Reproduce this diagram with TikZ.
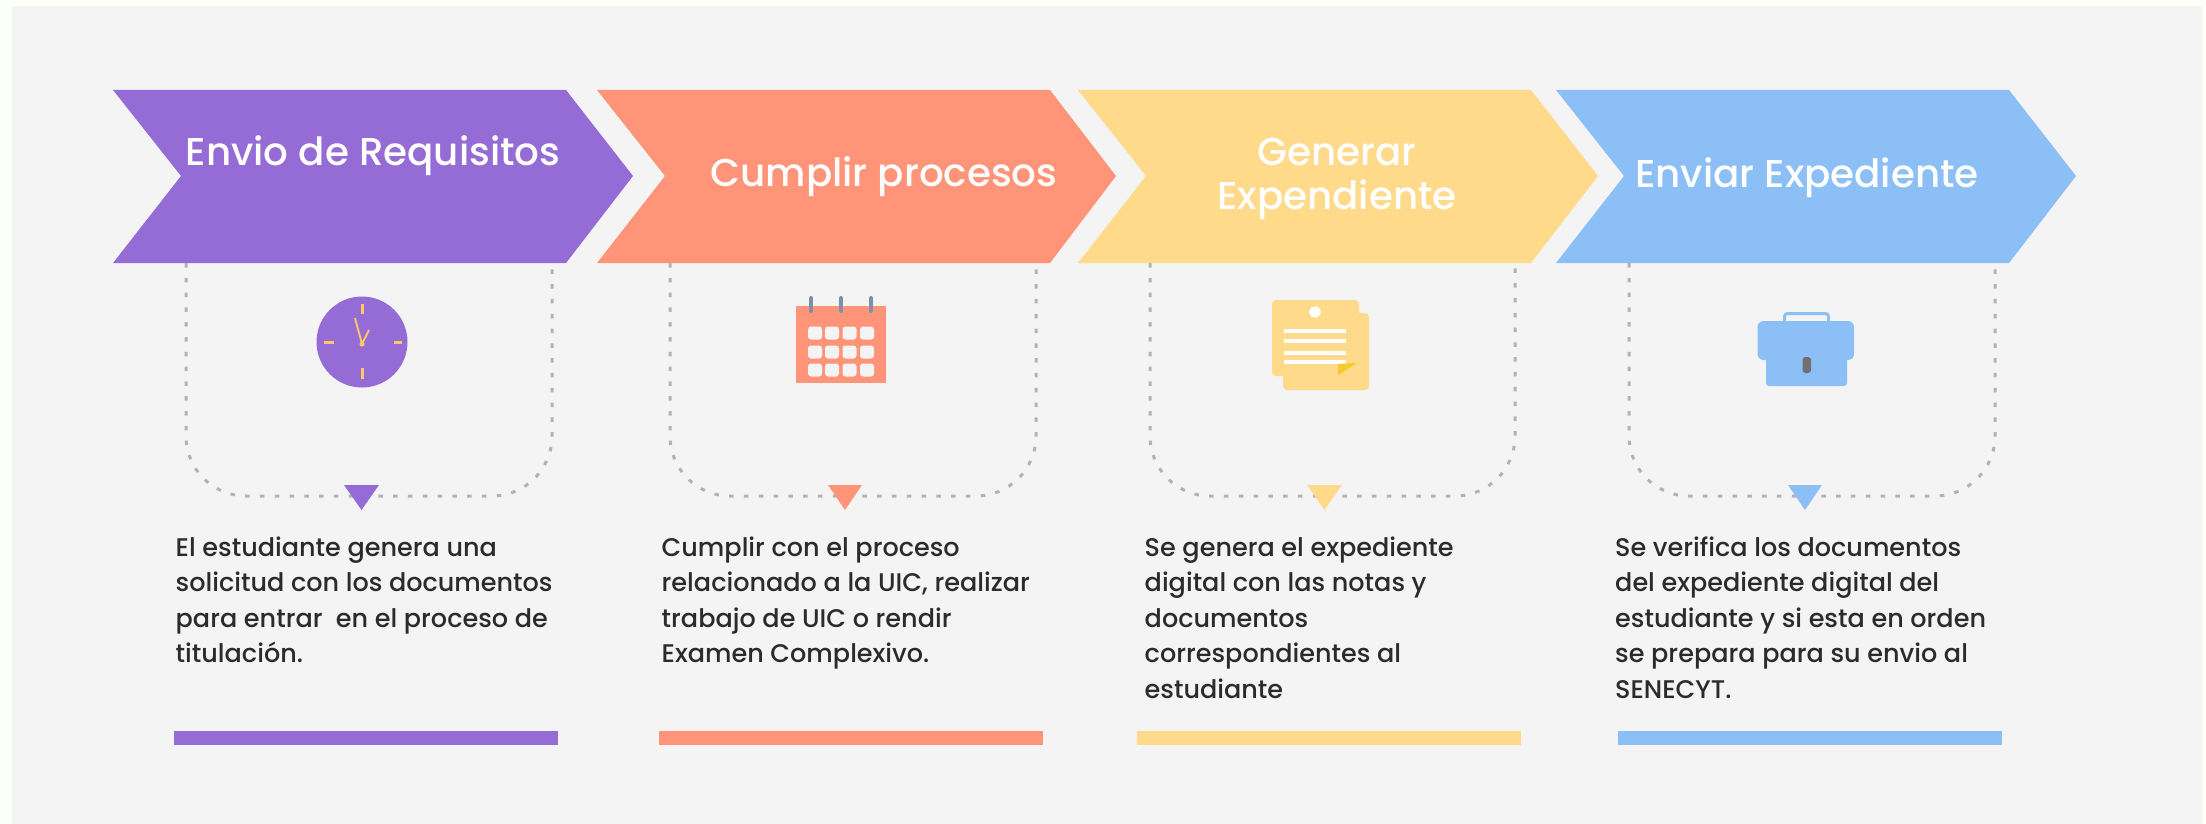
\documentclass[tikz,border=0pt]{standalone}
\usepackage{fontspec}
\setmainfont{Poppins Medium}
\definecolor{pagewhite}{HTML}{FCFEF9}
\definecolor{panel}{HTML}{F4F4F4}
\definecolor{cpurple}{HTML}{956CD6}
\definecolor{csalmon}{HTML}{FF9478}
\definecolor{cyellow}{HTML}{FFDA8A}
\definecolor{cblue}{HTML}{8BBFF5}
\definecolor{dotgrey}{HTML}{B2B2B2}
\definecolor{ringgrey}{HTML}{7F8FA9}
\definecolor{lockgrey}{HTML}{707070}
\definecolor{foldyellow}{HTML}{F9C92B}
\definecolor{clockhand}{HTML}{FFC766}
\definecolor{bodyink}{HTML}{2B2B2B}
\tikzset{
  titletext/.style={text=white,inner sep=0pt,anchor=base,font=\fontsize{38.8}{44}\selectfont,align=center},
  bodytext/.style={text=bodyink,inner sep=0pt,anchor=north west,align=left,font=\fontsize{25.5}{35.5}\selectfont},
  dotline/.style={draw=dotgrey,line width=3pt,dash pattern=on 4.5pt off 10.3pt,rounded corners=60pt},
}
\newcommand{\chevron}[5]{% name, colour, left, shoulder, tip
  \fill[#2] (#3,90) -- (#4,90) -- (#5,176) -- (#4,263) -- (#3,263) -- (#3+68,176) -- cycle;
  \coordinate (#1) at (#3,176);
}
\newcommand{\loopline}[6]{% name, colour, left, right, tri left, tri right
  \coordinate (#1l) at (#3,263);
  \coordinate (#1r) at (#4,263);
  \coordinate (#1b) at ({(#5+#6)/2},496);
  \draw[dotline] (#1l) -- (#1l |- #1b) -- (#1r |- #1b) -- (#1r);
  \fill[#2] (#5,485) -- (#6,485) -- ({(#5+#6)/2},510) -- cycle;
}
\begin{document}
\begin{tikzpicture}[x=1pt,y=-1pt]
\useasboundingbox (0,0) rectangle (2206,824);
\fill[pagewhite] (0,0) rectangle (2206,824);
\fill[panel] (12,6) rectangle (2202,824);

\chevron{a1}{cpurple}{113}{566}{633}
\chevron{a2}{csalmon}{597}{1050}{1116}
\chevron{a3}{cyellow}{1078}{1531}{1598}
\chevron{a4}{cblue}{1556}{2009}{2076}

\node[titletext] (t1) at (373,165) {Envio de Requisitos};
\node[titletext] (t2) at (884,186) {Cumplir procesos};
\node[titletext] (t3) at (1337,209) {Generar\\Expendiente};
\node[titletext] (t4) at (1807,187) {Enviar Expediente};

\loopline{l1}{cpurple}{186}{552}{344}{379}
\loopline{l2}{csalmon}{670}{1036}{828}{862}
\loopline{l3}{cyellow}{1150}{1515}{1307}{1342}
\loopline{l4}{cblue}{1629}{1995}{1788}{1822}

% clock
\fill[cpurple] (362,342) circle[radius=45.5pt];
\foreach \a/\b/\c/\d in {360.5/304/363.5/314,360.5/368/363.5/379,324/340.5/334/343.5,394/340.5/402/343.5}
  \fill[clockhand] (\a,\b) rectangle (\c,\d);
\draw[clockhand,line width=1.8pt] (355,318) -- (362,344) -- (369,330);
\fill[clockhand] (362,344) circle[radius=2.5pt];

% calendar
\fill[csalmon] (796,306) rectangle (886,383);
\foreach \x in {811,841,871}
  \draw[ringgrey,line width=4pt,line cap=round] (\x,298) -- (\x,311);
\foreach \x in {815,832,849.5,867}
  \foreach \y in {333,352,370}
    \fill[panel,rounded corners=3pt] (\x-7,\y-6.5) rectangle (\x+7,\y+6.5);

% documents
\fill[cyellow,rounded corners=4pt] (1283,313) rectangle (1369,390);
\fill[cyellow,rounded corners=4pt] (1272,300) rectangle (1359,376);
\fill[white] (1315,312) circle[x radius=6pt,y radius=5.5pt];
\foreach \y in {331,341,353,362}
  \fill[white] (1284,\y-2) rectangle (1346,\y+2);
\fill[foldyellow] (1338,375) -- (1338,364) -- (1357,363) -- cycle;

% briefcase
\draw[cblue,line width=3pt,rounded corners=3pt] (1784.5,322) -- (1784.5,313.5) -- (1828.5,313.5) -- (1828.5,322);
\fill[cblue,rounded corners=3pt] (1766,350) rectangle (1847,386);
\fill[cblue,rounded corners=6pt] (1757.5,321) rectangle (1854,360);
\fill[lockgrey,rounded corners=3pt] (1802.5,357) rectangle (1811,373);

\node[bodytext] (b1) at (175.5,536.5) {El estudiante genera una\\solicitud con los documentos\\para entrar\ \ en el proceso de\\titulación.};
\node[bodytext] (b2) at (661.5,536.5) {Cumplir con el proceso\\relacionado a la UIC, realizar\\trabajo de UIC o rendir\\Examen Complexivo.};
\node[bodytext] (b3) at (1144.5,536.5) {Se genera el expediente\\digital con las notas y\\documentos\\correspondientes al\\estudiante};
\node[bodytext] (b4) at (1615,536.5) {Se verifica los documentos\\del expediente digital del\\estudiante y si esta en orden\\se prepara para su envio al\\SENECYT.};

\fill[cpurple] (174,731) rectangle (558,745);
\fill[csalmon] (659,731) rectangle (1043,745);
\fill[cyellow] (1137,731) rectangle (1521,745);
\fill[cblue] (1618,731) rectangle (2002,745);
\end{tikzpicture}
\end{document}
